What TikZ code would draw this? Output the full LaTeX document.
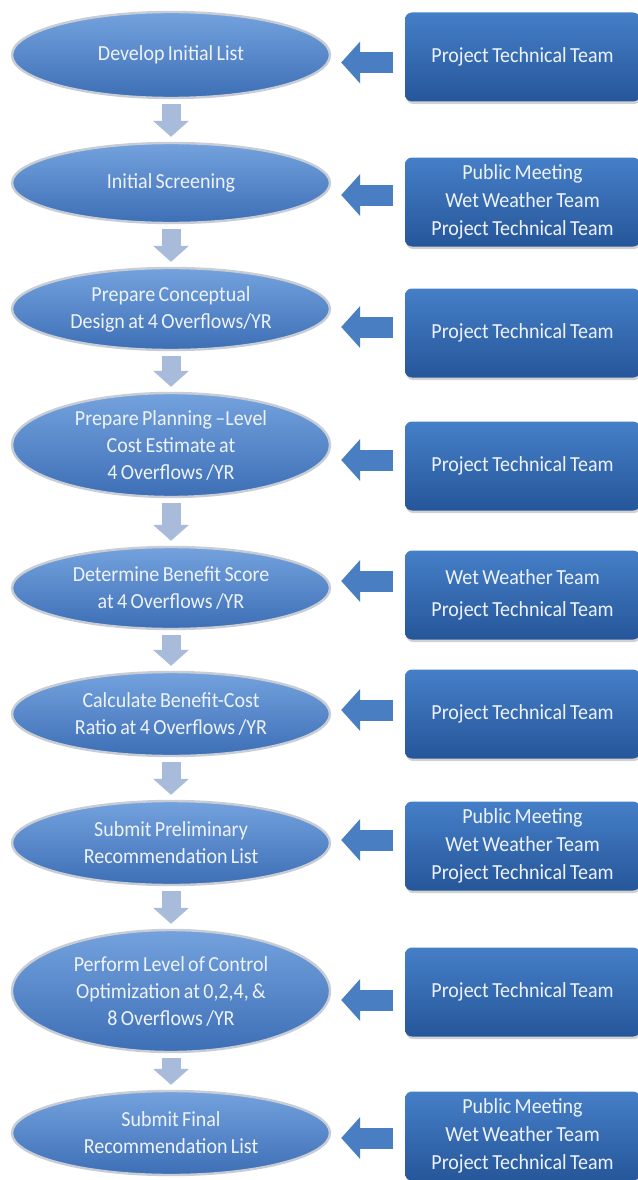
\documentclass[tikz,border=0pt]{standalone}
\usepackage{fontspec}
\setmainfont{Carlito}[FakeStretch=0.93, WordSpace=0.75]
\usetikzlibrary{shapes.geometric,arrows.meta,shadows}
\definecolor{stagetop}{HTML}{74A2DE}
\definecolor{stagebot}{HTML}{3D6FB6}
\definecolor{stagerim}{HTML}{C8CDD5}
\definecolor{teamtop}{HTML}{457FC7}
\definecolor{teambot}{HTML}{26569A}
\definecolor{feedblue}{HTML}{4A7EC2}
\definecolor{flowblue}{HTML}{A8BBDB}
\definecolor{labelwhite}{HTML}{EEF3FB}
\tikzset{
  stage/.style={ellipse, minimum width=318pt, inner sep=0pt,
    top color=stagetop, bottom color=stagebot, draw=stagerim, line width=2.4pt,
    text=labelwhite, align=center, font=\fontsize{21.5}{27}\selectfont},
  team/.style={rectangle, rounded corners=7pt, minimum width=235pt, minimum height=89pt,
    top color=teamtop, bottom color=teambot,
    drop shadow={opacity=0.35, shadow xshift=1pt, shadow yshift=-2.5pt},
    text=labelwhite, align=center, font=\fontsize{21.5}{28}\selectfont},
  feed/.style={draw=feedblue, line width=21pt,
    -{Triangle[width=41pt, length=19pt]}, shorten >=10pt},
  flow/.style={draw=flowblue, line width=19pt,
    -{Triangle[width=35pt, length=16pt]}, shorten <=5pt, shorten >=5pt}
}
\begin{document}
\begin{tikzpicture}[x=1pt, y=-1pt]
  \useasboundingbox[fill=white] (0,0) rectangle (637,1180);

  % process stages
  \node[stage, minimum height=86pt]  (e1) at (171,55)   {Develop Initial List};
  \node[stage, minimum height=80pt]  (e2) at (171,183)  {Initial Screening};
  \node[stage, minimum height=82pt]  (e3) at (171,309)  {Prepare Conceptual\\Design at 4 Overflows/YR};
  \node[stage, minimum height=104pt] (e4) at (171,445)  {Prepare Planning --Level\\Cost Estimate  at\\4 Overflows /YR};
  \node[stage, minimum height=82pt]  (e5) at (171,588)  {Determine Benefit Score\\at 4 Overflows /YR};
  \node[stage, minimum height=84pt]  (e6) at (171,714)  {Calculate Benefit-Cost\\Ratio at 4 Overflows /YR};
  \node[stage, minimum height=84pt]  (e7) at (171,843)  {Submit Preliminary\\Recommendation List};
  \node[stage, minimum height=122pt] (e8) at (171,991)  {Perform Level of Control\\Optimization at  0,2,4,  \&\\8 Overflows /YR};
  \node[stage, minimum height=84pt]  (e9) at (171,1133) {Submit Final\\Recommendation List};

  % responsible teams
  \node[team] (t1) at (522.5,57)   {Project Technical Team};
  \node[team] (t2) at (522.5,202)  {Public Meeting\\Wet Weather Team\\Project Technical Team};
  \node[team] (t3) at (522.5,333)  {Project Technical Team};
  \node[team] (t4) at (522.5,466)  {Project Technical Team};
  \node[team] (t5) at (522.5,595)  {Wet Weather Team\\[4pt]Project Technical Team};
  \node[team] (t6) at (522.5,714)  {Project Technical Team};
  \node[team] (t7) at (522.5,846)  {Public Meeting\\Wet Weather Team\\Project Technical Team};
  \node[team] (t8) at (522.5,992)  {Project Technical Team};
  \node[team] (t9) at (522.5,1136) {Public Meeting\\Wet Weather Team\\Project Technical Team};

  % block arrows from teams to stages
  \coordinate (a1) at (393,62.5);
  \coordinate (a2) at (393,195);
  \coordinate (a3) at (393,327);
  \coordinate (a4) at (393,460);
  \coordinate (a5) at (393,581);
  \coordinate (a6) at (393,710);
  \coordinate (a7) at (393,840);
  \coordinate (a8) at (393,1000);
  \coordinate (a9) at (393,1138);
  \foreach \i in {1,...,9} {
    \draw[feed] (a\i) -- (a\i -| e\i.east);
  }

  % flow between stages
  \foreach \i/\j in {1/2,2/3,3/4,4/5,5/6,6/7,7/8,8/9} {
    \draw[flow] (e\i.south) -- (e\j.north);
  }
\end{tikzpicture}
\end{document}
